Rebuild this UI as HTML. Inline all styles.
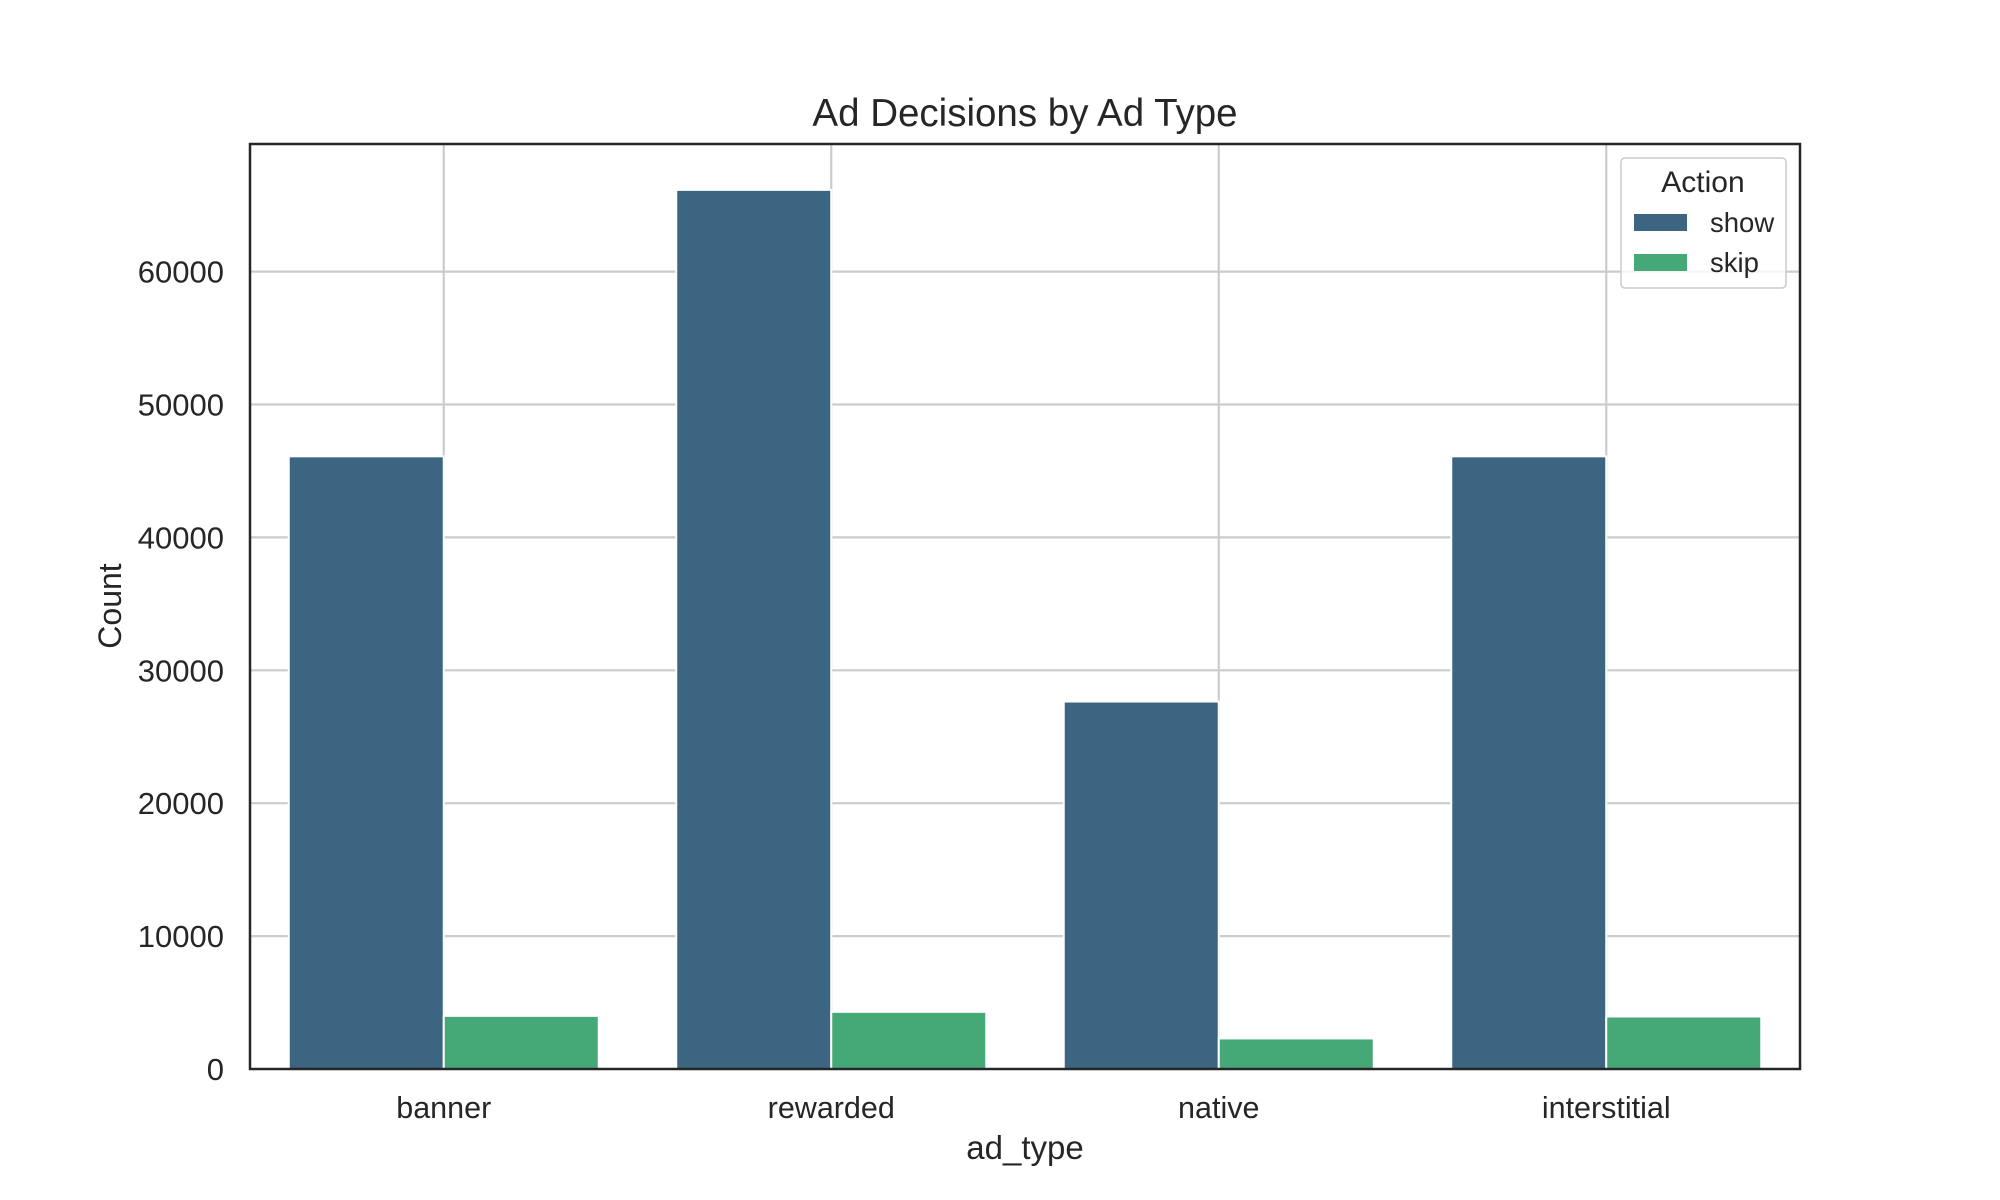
<!DOCTYPE html>
<html><head><meta charset="utf-8"><style>
html,body{margin:0;padding:0;background:#fff;}
svg{display:block;font-family:"Liberation Sans",Arial,sans-serif;}
</style></head><body>
<svg id="chart" width="2000" height="1200" viewBox="0 0 2000 1200">
<rect width="2000" height="1200" fill="#fff"/>
<g id="grid"></g><g id="bars"></g><g id="ticks"></g>
<rect x="250" y="144" width="1550" height="925" fill="none" stroke="#262626" stroke-width="2.5"/>
<text x="1025" y="126" font-size="38.5" fill="#262626" text-anchor="middle">Ad Decisions by Ad Type</text>
<text x="1025" y="1159" font-size="33" fill="#262626" text-anchor="middle">ad_type</text>
<text transform="translate(121,606) rotate(-90)" font-size="32" fill="#262626" text-anchor="middle">Count</text>
<g>
<rect x="1621" y="158" width="165" height="130" rx="4" fill="#fff" fill-opacity="0.8" stroke="#cccccc" stroke-width="1.5"/>
<text x="1703" y="192" font-size="30" fill="#262626" text-anchor="middle">Action</text>
<rect x="1634" y="214" width="53" height="17" fill="#3b6580"/>
<text x="1710" y="232" font-size="27.5" fill="#262626">show</text>
<rect x="1634" y="254" width="53" height="17" fill="#45a877"/>
<text x="1710" y="272" font-size="27.5" fill="#262626">skip</text>
</g>
</svg>
<script>
const categories = ["banner","rewarded","native","interstitial"];
const showValues = [46100, 66150, 27650, 46100];
const skipValues = [4000, 4300, 2300, 3950];
const yTicks = [0,10000,20000,30000,40000,50000,60000];
const yTickLabels = ["0","10000","20000","30000","40000","50000","60000"];

const NS="http://www.w3.org/2000/svg";
const L=250,R=1800,T=144,B=1069;
const pxPer10k=132.9;
function y(v){return B-(v/10000)*pxPer10k;}
const bw=(R-L)/categories.length;
function xc(i){return L+bw*(i+0.5);}
function mk(tag,attrs,parent){const e=document.createElementNS(NS,tag);for(const k in attrs)e.setAttribute(k,attrs[k]);parent.appendChild(e);return e;}
const grid=document.getElementById('grid'),bars=document.getElementById('bars'),ticks=document.getElementById('ticks');
yTicks.forEach((t,i)=>{
  const yy=y(t);
  if(t>0){const g=mk('line',{x1:L,x2:R,y1:yy,y2:yy,stroke:'#cccccc','stroke-width':2.2},grid);
  
  }
  const tx=mk('text',{x:224,y:yy+11,'font-size':31,fill:'#262626','text-anchor':'end'},ticks);
  tx.textContent=yTickLabels[i];
  
  
});
categories.forEach((c,i)=>{
  const cx=xc(i);
  const g=mk('line',{x1:cx,x2:cx,y1:T,y2:B,stroke:'#cccccc','stroke-width':2.2},grid);
  
  
  const w=bw*0.4;
  const b1=mk('rect',{x:cx-w,y:y(showValues[i]),width:w,height:B-y(showValues[i]),fill:'#3b6580',stroke:'#fff','stroke-width':2},bars);
  
  
  const b2=mk('rect',{x:cx,y:y(skipValues[i]),width:w,height:B-y(skipValues[i]),fill:'#45a877',stroke:'#fff','stroke-width':2},bars);
  
  
  const tx=mk('text',{x:cx,y:1118,'font-size':30.5,fill:'#262626','text-anchor':'middle'},ticks);
  tx.textContent=c;
  
  
});
</script>
</body></html>
